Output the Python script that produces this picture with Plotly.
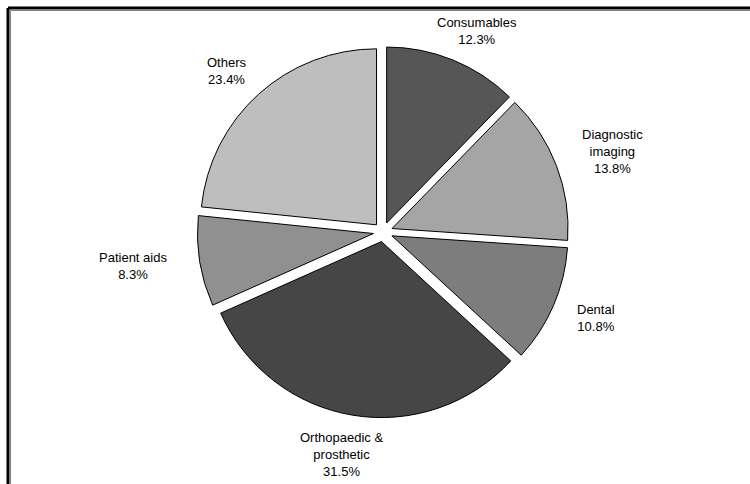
import math
import plotly.graph_objects as go

categories = ["Consumables", "Diagnostic imaging", "Dental",
              "Orthopaedic & prosthetic", "Patient aids", "Others"]
label_lines = [["Consumables"], ["Diagnostic", "imaging"], ["Dental"],
               ["Orthopaedic &", "prosthetic"], ["Patient aids"], ["Others"]]
shares = [12.3, 13.8, 10.8, 31.5, 8.3, 23.4]
colors = ["#565656", "#a5a5a5", "#7d7d7d", "#464646", "#909090", "#bebebe"]

W, H = 750, 484
CX, CY = 383, 232          # pie centre (px)
R = 176                    # pie radius (px)
PULL = 0.055               # explode fraction
BOX = R * (2 + 2 * PULL)   # plotly domain size giving radius R
LABEL_GAP = 14             # px between slice edge and label box
EXTRA_X = 12               # extra horizontal spacing for side labels
CHAR_W, LINE_H = 6.9, 17.5

fig = go.Figure(go.Pie(
    labels=categories,
    values=shares,
    textinfo="none",
    sort=False,
    direction="clockwise",
    rotation=0,
    pull=[PULL] * len(shares),
    marker=dict(colors=colors, line=dict(color="#000000", width=1)),
    showlegend=False,
    hoverinfo="label+percent",
    domain=dict(x=[(CX - BOX / 2) / W, (CX + BOX / 2) / W],
                y=[1 - (CY + BOX / 2) / H, 1 - (CY - BOX / 2) / H]),
))

# labels outside each slice, positioned from the data's mid-angles
total = sum(shares)
cum = 0.0
for lines, v in zip(label_lines, shares):
    mid = (cum + v / 2) / total * 2 * math.pi
    cum += v
    dx, dy = math.sin(mid), -math.cos(mid)   # screen coords (y down)
    all_lines = lines + [f"{v:.1f}%"]
    bw = max(len(s) for s in all_lines) * CHAR_W
    bh = len(all_lines) * LINE_H
    d = R * (1 + PULL) + LABEL_GAP
    px = CX + dx * d + dx * bw / 2 + dx * EXTRA_X
    py = CY + dy * d + dy * bh / 2
    fig.add_annotation(
        x=px / W, y=1 - py / H, xref="paper", yref="paper",
        text="<br>".join(all_lines), showarrow=False,
        xanchor="center", yanchor="middle", align="center",
        font=dict(family="Liberation Sans, Arial", size=13, color="#000000"),
    )

# chart frame (top and left edges visible)
fig.add_shape(type="line", xref="paper", yref="paper",
              x0=8 / W, x1=1.01, y0=1 - 8 / H, y1=1 - 8 / H,
              line=dict(color="#000000", width=3))
fig.add_shape(type="line", xref="paper", yref="paper",
              x0=8 / W, x1=8 / W, y0=-0.01, y1=1 - 8 / H,
              line=dict(color="#000000", width=3))
fig.add_shape(type="line", xref="paper", yref="paper",
              x0=10.5 / W, x1=1.01, y0=1 - 10.5 / H, y1=1 - 10.5 / H,
              line=dict(color="#808080", width=1))
fig.add_shape(type="line", xref="paper", yref="paper",
              x0=10.5 / W, x1=10.5 / W, y0=-0.01, y1=1 - 10.5 / H,
              line=dict(color="#808080", width=1))

fig.update_layout(
    width=W, height=H,
    margin=dict(l=0, r=0, t=0, b=0),
    paper_bgcolor="#ffffff",
    plot_bgcolor="#ffffff",
    font=dict(family="Liberation Sans, Arial", size=13, color="#000000"),
)

fig.write_html("out.html")
